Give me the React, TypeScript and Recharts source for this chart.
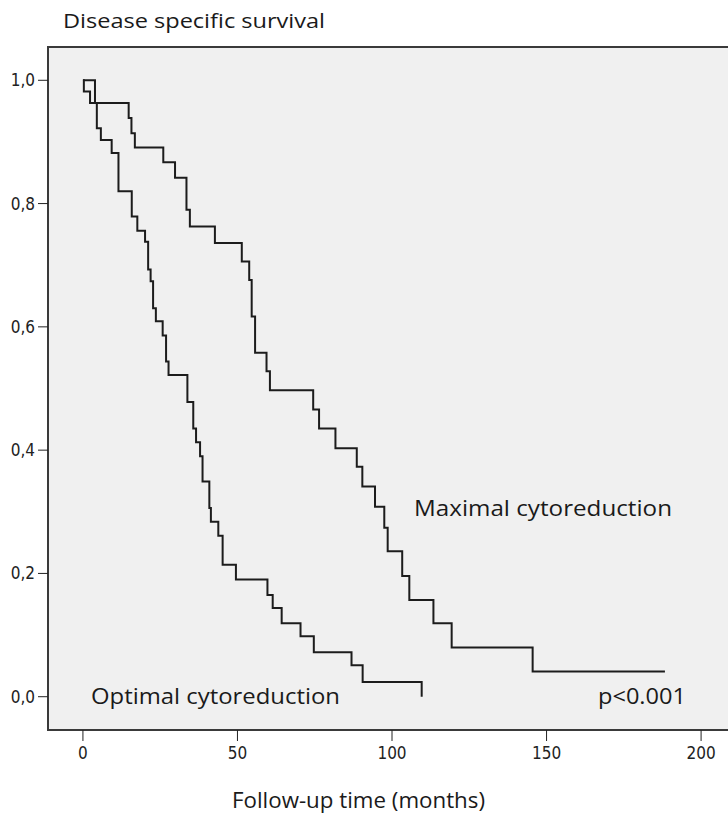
import { LineChart, Line, XAxis, YAxis, ReferenceArea } from "recharts";

// months, survival proportion (read from the Kaplan-Meier steps)
const maximalTime = [0, 0.3, 2.3, 14.8, 15.7, 16.8, 26.0, 29.8, 33.5, 34.6, 42.7, 51.4, 53.8, 54.6, 55.7, 59.4, 60.5, 74.5, 76.4, 81.7, 88.6, 90.4, 94.5, 97.5, 98.6, 103.3, 105.6, 113.4, 119.3, 145.5, 188.3];
const maximalSurv = [1.0, 0.982, 0.963, 0.939, 0.914, 0.891, 0.867, 0.842, 0.79, 0.763, 0.736, 0.706, 0.676, 0.617, 0.558, 0.528, 0.497, 0.466, 0.435, 0.403, 0.373, 0.341, 0.308, 0.274, 0.236, 0.196, 0.157, 0.119, 0.08, 0.041, 0.041];

const optimalTime = [0, 3.9, 4.5, 5.8, 9.3, 11.5, 15.8, 17.6, 20.1, 21.1, 21.9, 22.7, 23.6, 25.8, 26.9, 27.7, 33.8, 35.7, 36.6, 37.9, 38.7, 40.9, 41.4, 43.8, 45.2, 49.5, 59.7, 61.4, 64.3, 70.4, 74.7, 86.9, 90.5, 109.6];
const optimalSurv = [1.0, 0.963, 0.922, 0.903, 0.882, 0.82, 0.779, 0.756, 0.738, 0.693, 0.674, 0.63, 0.609, 0.586, 0.544, 0.522, 0.478, 0.435, 0.413, 0.39, 0.349, 0.306, 0.284, 0.261, 0.214, 0.19, 0.165, 0.144, 0.119, 0.098, 0.072, 0.051, 0.024, 0.0];

const xTicks = [0, 50, 100, 150, 200];
const yTicks = [0, 0.2, 0.4, 0.6, 0.8, 1.0];

const maximal = maximalTime.map((t, i) => ({ t, s: maximalSurv[i] }));
const optimal = optimalTime.map((t, i) => ({ t, s: optimalSurv[i] }));

const X0 = -11.3;
const X1 = 210;
const Y0 = -0.054;
const Y1 = 1.054;

const tickFont = { fontFamily: "'Liberation Sans Narrow', 'DejaVu Sans Condensed', Arial, sans-serif", fontSize: 17, fill: "#222" };
const textFont = "'Open Sans', 'Noto Sans', sans-serif";

export default function App() {
  return (
    <div style={{ position: "absolute", left: 0, top: 0, width: 728, height: 819, overflow: "hidden", background: "#fff" }}>
      <LineChart width={740} height={819} margin={{ top: 47, right: 8, left: 0, bottom: 0 }}>
        <ReferenceArea x1={X0} x2={X1} y1={Y0} y2={Y1} fill="#f0f0f0" fillOpacity={1} stroke="#3a3a3a" strokeWidth={2} />
        <XAxis
          type="number"
          dataKey="t"
          domain={[X0, X1]}
          ticks={xTicks}
          allowDataOverflow
          axisLine={false}
          tickLine={{ stroke: "#222" }}
          tickSize={11}
          tickMargin={6}
          height={89}
          tick={tickFont}
        />
        <YAxis
          type="number"
          dataKey="s"
          domain={[Y0, Y1]}
          ticks={yTicks}
          allowDataOverflow
          axisLine={false}
          tickLine={{ stroke: "#222" }}
          tickSize={10}
          tickMargin={3}
          width={48}
          tick={tickFont}
          tickFormatter={(v: number) => v.toFixed(1).replace(".", ",")}
        />
        <Line data={maximal} dataKey="s" type="stepAfter" stroke="#1c1c1c" strokeWidth={2} dot={false} isAnimationActive={false} />
        <Line data={optimal} dataKey="s" type="stepAfter" stroke="#1c1c1c" strokeWidth={2} dot={false} isAnimationActive={false} />
      </LineChart>
      <svg width={728} height={819} style={{ position: "absolute", left: 0, top: 0, pointerEvents: "none" }}>
        <text x={63} y={28} fontFamily={textFont} fontSize={20} fill="#1a1a1a" textLength={262} lengthAdjust="spacingAndGlyphs">Disease specific survival</text>
        <text x={414} y={516} fontFamily={textFont} fontSize={22} fill="#1a1a1a" textLength={258} lengthAdjust="spacingAndGlyphs">Maximal cytoreduction</text>
        <text x={91} y={704} fontFamily={textFont} fontSize={22} fill="#1a1a1a" textLength={249} lengthAdjust="spacingAndGlyphs">Optimal cytoreduction</text>
        <text x={598} y={704} fontFamily={textFont} fontSize={22} fill="#1a1a1a" textLength={88} lengthAdjust="spacingAndGlyphs">p&lt;0.001</text>
        <text x={232} y={808} fontFamily={textFont} fontSize={21} fill="#1a1a1a" textLength={253} lengthAdjust="spacingAndGlyphs">Follow-up time (months)</text>
      </svg>
    </div>
  );
}
